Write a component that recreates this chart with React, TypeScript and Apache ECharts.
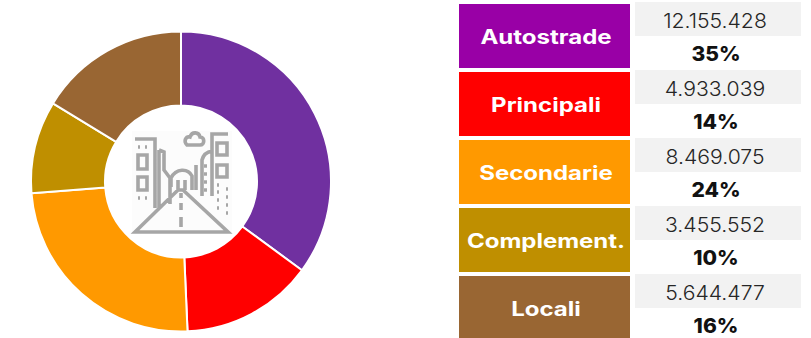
import React, { useEffect, useRef } from "react";
import * as echarts from "echarts";

const categories = ["Autostrade", "Principali", "Secondarie", "Complement.", "Locali"];
const values = [12155428, 4933039, 8469075, 3455552, 5644477];
const valueLabels = ["12.155.428", "4.933.039", "8.469.075", "3.455.552", "5.644.477"];
const percentLabels = ["35%", "14%", "24%", "10%", "16%"];
const sliceColors = ["#7030A0", "#FF0000", "#FF9900", "#BF8F00", "#996633"];
const labelColors = ["#9900A6", "#FF0000", "#FF9900", "#BF8F00", "#996633"];

const FONT = "Inter, 'Open Sans', sans-serif";

const ICON = [
  // left building
  "M135 139H155V208M159 150L159 208M159 150L164 152V170L170 178V204",
  "M138 155H147V169H138ZM138 177H147V190H138Z",
  "M138 147H140M145 147H147M138 198H140M145 198H147",
  // cloud
  "M187 145C183 141 186 136 190 137C192 131 199 132 200 137C205 137 205 145 200 145Z",
  // right building
  "M228 134H212V196",
  "M217 143H227V155H217ZM217 165H227V177H217Z",
  "M217 185H219M226 189H228M217 192H219M226 197H228M217 200H219M226 205H228M217 208H219M226 213H228",
  // middle tower
  "M212 151C206 152 203 156 202 160V196M196 165V190",
  "M204 166H207M204 174H207M204 182H207M204 190H207",
  // centre arch
  "M171 187V178C176 168 188 168 192 176V190M178 180V190M185 180V190",
  // road
  "M135 232L178 190H183L228 232Z",
  "M181 193V198M181 203V210M181 217V227",
].join("");

echarts.graphic.registerShape("roadIcon", echarts.graphic.extendPath(ICON, {}));

export default function App() {
  const ref = useRef<HTMLDivElement>(null);
  useEffect(() => {
    const chart = echarts.init(ref.current!, undefined, { renderer: "svg" });
    const rowH = 68;
    const table: any[] = [];
    categories.forEach((name, i) => {
      const top = 4 + i * rowH;
      const cellTop = 2 + i * rowH;
      table.push({
        type: "rect",
        shape: { x: 459, y: top, width: 171, height: i === 4 ? 62 : 64 },
        style: { fill: labelColors[i] },
      });
      table.push({
        type: "rect",
        shape: { x: 635, y: cellTop, width: 166, height: 34 },
        style: { fill: "#F2F2F2" },
      });
      table.push({
        type: "text",
        x: 546,
        y: top + 33,
        scaleX: 1.2,
        style: {
          text: name,
          fill: "#FFFFFF",
          font: `700 20px ${FONT}`,
          align: "center",
          verticalAlign: "middle",
        },
      });
      table.push({
        type: "text",
        x: 715,
        y: cellTop + 19,
        scaleX: 1.06,
        style: {
          text: valueLabels[i],
          fill: "#262626",
          font: `300 20px ${FONT}`,
          align: "center",
          verticalAlign: "middle",
        },
      });
      table.push({
        type: "text",
        x: 716,
        y: cellTop + 51.5,
        scaleX: 1.05,
        style: {
          text: percentLabels[i],
          fill: "#111111",
          font: `800 20px ${FONT}`,
          align: "center",
          verticalAlign: "middle",
        },
      });
    });
    chart.setOption({
      animation: false,
      backgroundColor: "#FFFFFF",
      series: [
        {
          type: "pie",
          center: [181, 181.5],
          radius: [76, 150],
          startAngle: 90,
          clockwise: true,
          label: { show: false },
          labelLine: { show: false },
          silent: true,
          itemStyle: { borderColor: "#FFFFFF", borderWidth: 2 },
          data: categories.map((name, i) => ({
            name,
            value: values[i],
            itemStyle: { color: sliceColors[i] },
          })),
        },
      ],
      graphic: {
        elements: [
          {
            type: "rect",
            z: 5,
            shape: { x: 132, y: 131, width: 100, height: 101 },
            style: { fill: "#FCFCFC" },
          },
          {
            type: "roadIcon",
            z: 6,
            style: { fill: "none", stroke: "#A6A6A6", lineWidth: 3.6 },
          },
          ...table,
        ],
      },
    });
    return () => chart.dispose();
  }, []);
  return (
    <div
      ref={ref}
      style={{ position: "absolute", left: 0, top: 0, width: 811, height: 338 }}
    />
  );
}
